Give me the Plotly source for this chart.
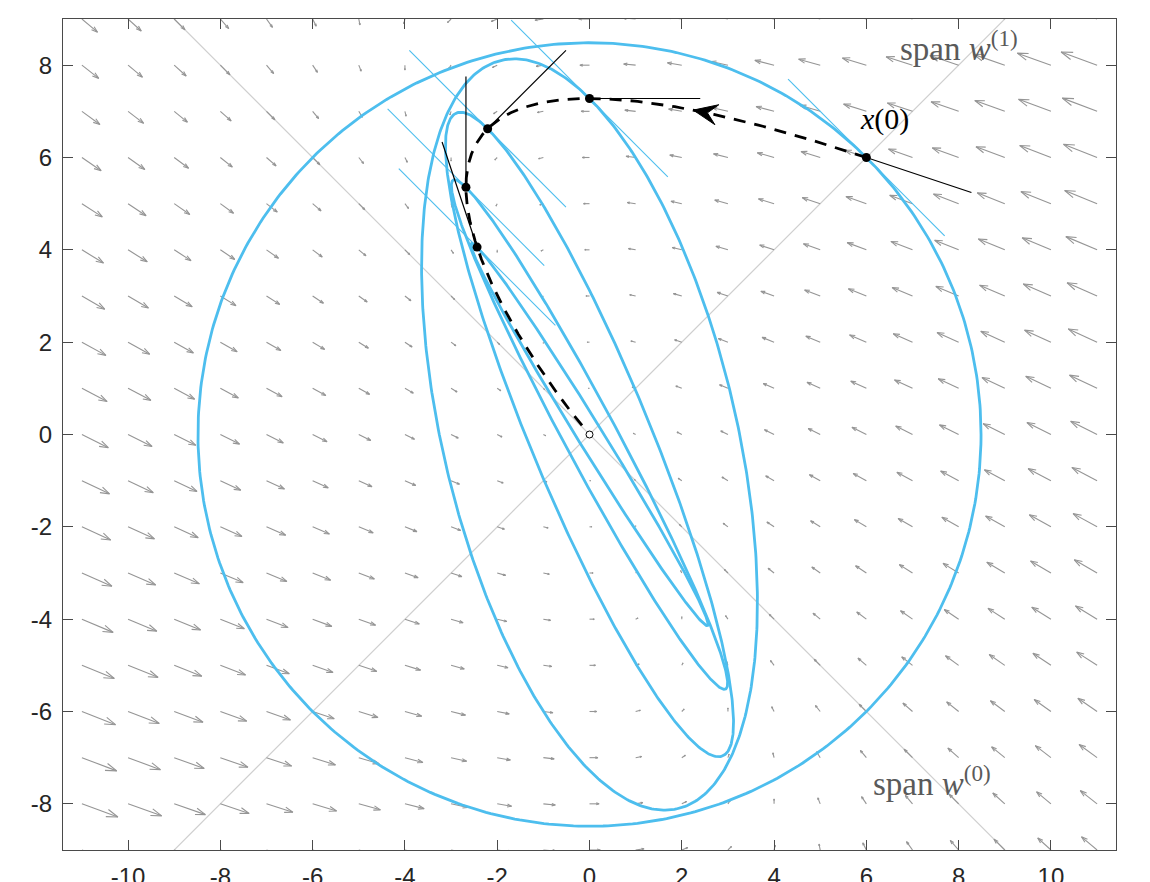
import numpy as np
import plotly.graph_objects as go

# ---------------- data ----------------
A = np.array([[-1.0, -0.5],
              [0.5, 0.0]])            # system matrix  dx/dt = A x
x0 = np.array([6.0, 6.0])             # initial state x(0)
sample_times = [0, 1, 2, 3, 4]        # times of the ellipses / marked points
traj_t_end = 20.0
arrow_t = 0.515                       # time where the direction arrow sits
span_w0 = np.array([1.0, -1.0])
span_w1 = np.array([1.0, 1.0])
quiver_x = list(range(-11, 12))
quiver_y = list(range(-9, 10))
quiver_scale = 0.052
segment_len = 2.4
x_ticks = [-10, -8, -6, -4, -2, 0, 2, 4, 6, 8, 10]
y_ticks = [-8, -6, -4, -2, 0, 2, 4, 6, 8]
x_range = [-11.41, 11.41]
y_range = [-9.0, 9.0]

BLUE = "#4DBEEE"
QGRAY = "#959595"
SPANGRAY = "#cfcfcf"
TXTGRAY = "#5a5a5a"


def expm(M):
    nrm = np.abs(M).sum()
    n = max(0, int(np.ceil(np.log2(nrm))) + 1) if nrm > 0 else 0
    Ms = M / (2 ** n)
    E = np.eye(2)
    term = np.eye(2)
    for k in range(1, 25):
        term = term @ Ms / k
        E = E + term
    for _ in range(n):
        E = E @ E
    return E


fig = go.Figure()

# span lines
for w in (span_w0, span_w1):
    u = w / np.linalg.norm(w)
    fig.add_trace(go.Scatter(x=[-20 * u[0], 20 * u[0]], y=[-20 * u[1], 20 * u[1]],
                             mode="lines", line=dict(color=SPANGRAY, width=1.2),
                             hoverinfo="skip", showlegend=False))

# quiver field
qx, qy = [], []
alpha, beta = 0.3, 0.33
for xi in quiver_x:
    for yi in quiver_y:
        v = A @ np.array([xi, yi], dtype=float)
        u, w = v * quiver_scale
        hx, hy = xi + u, yi + w
        qx += [xi, hx, None]
        qy += [yi, hy, None]
        qx += [hx - alpha * (u + beta * w), hx, hx - alpha * (u - beta * w), None]
        qy += [hy - alpha * (w - beta * u), hy, hy - alpha * (w + beta * u), None]
fig.add_trace(go.Scatter(x=qx, y=qy, mode="lines", line=dict(color=QGRAY, width=1.1),
                         hoverinfo="skip", showlegend=False))

# ellipses: images of the circle through x0
r0 = np.linalg.norm(x0)
theta = np.linspace(0, 2 * np.pi, 500)
circle = np.vstack([r0 * np.cos(theta), r0 * np.sin(theta)])
for t in sample_times:
    E = expm(A * t) @ circle
    fig.add_trace(go.Scatter(x=E[0], y=E[1], mode="lines", line=dict(color=BLUE, width=2.8),
                             hoverinfo="skip", showlegend=False))

# tangent lines (blue) and -A x direction lines (black)
tan0 = np.array([-x0[1], x0[0]])
tx, ty, bx, by = [], [], [], []
pts = []
for t in sample_times:
    Et = expm(A * t)
    p = Et @ x0
    pts.append(p)
    d = Et @ tan0
    d = d / np.linalg.norm(d)
    tx += [p[0] - segment_len * d[0], p[0] + segment_len * d[0], None]
    ty += [p[1] - segment_len * d[1], p[1] + segment_len * d[1], None]
    g = -(A @ p)
    g = g / np.linalg.norm(g)
    bx += [p[0], p[0] + segment_len * g[0], None]
    by += [p[1], p[1] + segment_len * g[1], None]
fig.add_trace(go.Scatter(x=tx, y=ty, mode="lines", line=dict(color=BLUE, width=1.1),
                         hoverinfo="skip", showlegend=False))
fig.add_trace(go.Scatter(x=bx, y=by, mode="lines", line=dict(color="black", width=1.2),
                         hoverinfo="skip", showlegend=False))

# trajectory
tt = np.linspace(0, traj_t_end, 1500)
traj = np.array([expm(A * t) @ x0 for t in tt]).T
fig.add_trace(go.Scatter(x=traj[0], y=traj[1], mode="lines",
                         line=dict(color="black", width=2.8, dash="12px,9px"),
                         hoverinfo="skip", showlegend=False))

# direction arrow head on the trajectory
tip = expm(A * arrow_t) @ x0
dv = A @ tip
dv = dv / np.linalg.norm(dv)
nv = np.array([-dv[1], dv[0]])
L, W = 0.52, 0.22
back = tip - L * dv
notch = tip - 0.6 * L * dv
head = np.array([tip, back + W * nv, notch, back - W * nv, tip]).T
fig.add_trace(go.Scatter(x=head[0], y=head[1], mode="lines", fill="toself",
                         fillcolor="black", line=dict(color="black", width=1),
                         hoverinfo="skip", showlegend=False))

# points
P = np.array(pts).T
fig.add_trace(go.Scatter(x=P[0], y=P[1], mode="markers",
                         marker=dict(color="black", size=9, line=dict(width=0)),
                         hoverinfo="skip", showlegend=False))
fig.add_trace(go.Scatter(x=[0], y=[0], mode="markers",
                         marker=dict(color="white", size=7, line=dict(color="black", width=1)),
                         hoverinfo="skip", showlegend=False))

# labels
serif = "Liberation Serif, DejaVu Serif, serif"
fig.add_annotation(x=8.0, y=8.42, text="span <i>w</i><sup>(1)</sup>", showarrow=False,
                   font=dict(family=serif, size=33, color=TXTGRAY))
fig.add_annotation(x=7.42, y=-7.5, text="span <i>w</i><sup>(0)</sup>", showarrow=False,
                   font=dict(family=serif, size=33, color=TXTGRAY))
fig.add_annotation(x=6.40, y=6.84, text="<i>x</i>(0)", showarrow=False,
                   font=dict(family=serif, size=30, color="black"))

axis_common = dict(showgrid=False, zeroline=False, showline=True, linecolor="#4a4a4a",
                   linewidth=1.3, ticks="inside", ticklen=10, tickcolor="#4a4a4a",
                   tickwidth=1.3, mirror="ticks", automargin=False,
                   tickfont=dict(family="Liberation Sans, Arial, sans-serif", size=24,
                                 color="#262626"))
fig.update_xaxes(range=x_range, tickvals=x_ticks, ticktext=[str(v) for v in x_ticks],
                 ticklabelstandoff=5, **axis_common)
fig.update_yaxes(range=y_range, tickvals=y_ticks, ticktext=[str(v) for v in y_ticks],
                 ticklabelstandoff=5, **axis_common)
# the page adds an 8px body margin, so the figure is sized/offset to compensate
fig.update_layout(width=1142, height=874, margin=dict(l=55, r=34, t=11, b=32),
                  paper_bgcolor="white", plot_bgcolor="white", showlegend=False)

fig.write_html("out.html")
